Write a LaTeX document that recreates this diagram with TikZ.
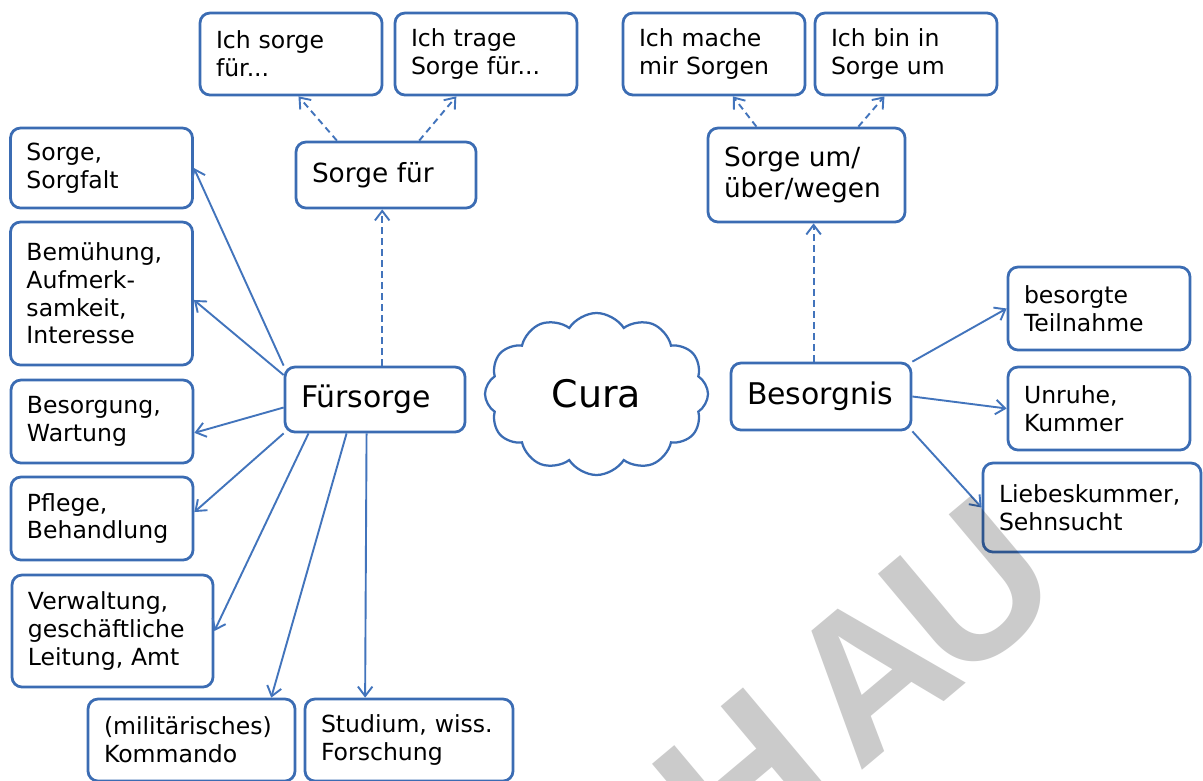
\documentclass[tikz,border=0pt]{standalone}
\usepackage{fontspec}
\setmainfont{DejaVu Sans}
\newfontfamily\wzfont{Liberation Sans}
\usetikzlibrary{shapes.symbols,arrows.meta}

\begin{document}
\begin{tikzpicture}[x=0.2mm, y=-0.2mm,
  kasten/.style 2 args={draw=boxBlue, line width=0.55mm, rounded corners=2mm, fill=white,
    align=left, inner xsep=3.2mm, inner ysep=0pt, text width=#1, minimum height=#2,
    font=\fontsize{13.4}{15.8}\selectfont},
  mittel/.style={font=\fontsize{15}{18}\selectfont},
  gross/.style={font=\fontsize{17}{20}\selectfont},
  wolke/.style={cloud, cloud puffs=12, cloud puff arc=115, cloud ignores aspect,
    draw=boxBlue, line width=0.45mm, fill=white, minimum width=44.6mm, minimum height=32.4mm,
    font=\fontsize{21.6}{26}\selectfont},
  pfeil/.style={draw=lineBlue, line width=0.38mm, -{Straight Barb[length=1.9mm,width=2.9mm]}},
  gestrichelt/.style={pfeil, dash pattern=on 1.3mm off 0.9mm}]

% Farben
\definecolor{boxBlue}{HTML}{3B6CB3}
\definecolor{lineBlue}{HTML}{4274BC}
\definecolor{wzGray}{HTML}{CBCBCB}

\useasboundingbox[fill=white] (0,0) rectangle (1203,780);

% Obere Reihe
\node[kasten={30mm}{16.4mm}] (ichsorge) at (291,54) {Ich sorge\\für...};
\node[kasten={30mm}{16.4mm}] (ichtrage) at (486,54) {Ich trage\\Sorge für...};
\node[kasten={30mm}{16.4mm}] (ichmache) at (714,54) {Ich mache\\mir Sorgen};
\node[kasten={30mm}{16.4mm}] (ichbin) at (906,54) {Ich bin in\\Sorge um};

\node[kasten={29.6mm}{13.2mm}, mittel] (sorgefuer) at (386,175) {Sorge für};
\node[kasten={33mm}{18.8mm}, mittel] (sorgeum) at (806.5,175) {Sorge um/\\über/wegen};

% Linke Spalte
\node[kasten={30mm}{16mm}] (sorgfalt) at (101.5,168) {Sorge,\\Sorgfalt};
\node[kasten={30mm}{28.6mm}] (bemuehung) at (101.5,293.5) {Bemühung,\\Aufmerk-\\samkeit,\\Interesse};
\node[kasten={30mm}{16.6mm}] (besorgung) at (102,421.5) {Besorgung,\\Wartung};
\node[kasten={30mm}{16.6mm}] (pflege) at (102,518.5) {Pflege,\\Behandlung};
\node[kasten={33.8mm}{22.4mm}] (verwaltung) at (112.5,631) {Verwaltung,\\geschäftliche\\Leitung, Amt};
\node[kasten={35mm}{16.4mm}] (kommando) at (191.5,740) {(militärisches)\\Kommando};
\node[kasten={35.2mm}{16.4mm}] (studium) at (409,740) {Studium, wiss.\\Forschung};

% Mitte
\node[kasten={29.6mm}{13mm}, gross] (fuersorge) at (375,399.5) {Fürsorge};
\node[wolke] (cura) at (596.5,394) {Cura};
\node[kasten={29.6mm}{13.4mm}, gross] (besorgnis) at (821,396.5) {Besorgnis};

% Rechte Spalte
\node[kasten={30mm}{16.6mm}] (teilnahme) at (1099,308.5) {besorgte\\Teilnahme};
\node[kasten={30mm}{16.6mm}] (unruhe) at (1099,408.5) {Unruhe,\\Kummer};
\node[kasten={37.2mm}{17.8mm}] (liebe) at (1092,507.5) {Liebeskummer,\\Sehnsucht};

% Pfeile Fuersorge
\draw[pfeil] (fuersorge.north west) -- (sorgfalt.east);
\draw[pfeil] (fuersorge.165) -- (bemuehung.-4);
\draw[pfeil] (fuersorge.185) -- (besorgung.-7);
\draw[pfeil] (fuersorge.south west) -- (pflege.4);
\draw[pfeil] (fuersorge.207) -- (verwaltung.east);
\draw[pfeil] (fuersorge.230) -- (kommando.28);
\draw[pfeil] (fuersorge.256) -- (studium.136);

% gestrichelte Pfeile
\draw[gestrichelt] (fuersorge.78) -- (fuersorge.78 |- sorgefuer.south);
\draw[gestrichelt] (sorgefuer.145) -- (ichsorge.-80);
\draw[gestrichelt] (sorgefuer.46) -- (ichtrage.-125);
\draw[gestrichelt] (besorgnis.102) -- (besorgnis.102 |- sorgeum.south);
\draw[gestrichelt] (sorgeum.136) -- (ichmache.-66);
\draw[gestrichelt] (sorgeum.43) -- (ichbin.-117);

% Pfeile Besorgnis
\draw[pfeil] (besorgnis.north east) -- (teilnahme.west);
\draw[pfeil] (besorgnis.east) -- (unruhe.west);
\draw[pfeil] (besorgnis.south east) -- (liebe.west);

% Wasserzeichen
\begin{scope}[blend mode=multiply]
\node[rotate=40, anchor=base, text=wzGray, font=\wzfont\bfseries\fontsize{115}{115}\selectfont] (wasserzeichen) at (901,737) {H\kern3.8mm A\kern-3mm U};
\end{scope}

\end{tikzpicture}
\end{document}
